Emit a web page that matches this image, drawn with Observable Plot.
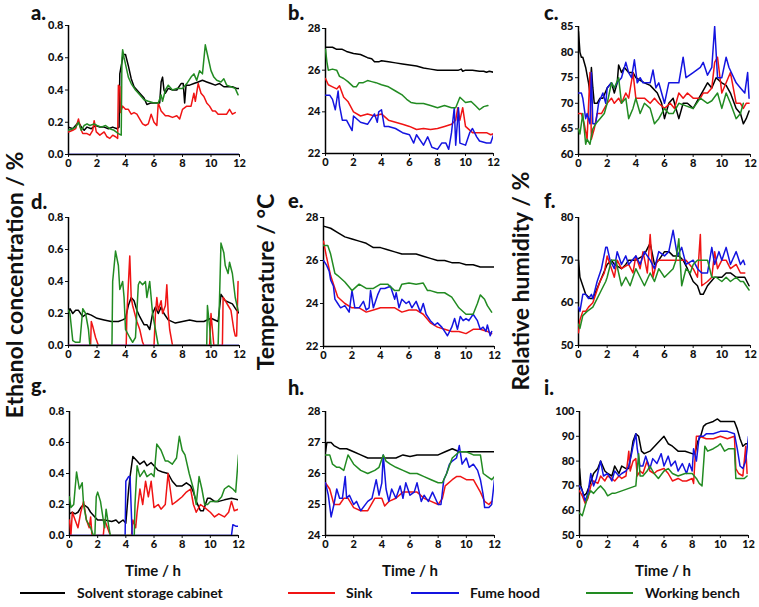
<!DOCTYPE html>
<html><head><meta charset="utf-8">
<script src="https://cdn.jsdelivr.net/npm/d3@7"></script>
<script src="https://cdn.jsdelivr.net/npm/@observablehq/plot@0.6"></script>
<style>
body{margin:0;background:#fff;}
#root{position:relative;width:759px;height:607px;overflow:hidden;font-family:Lato,"Open Sans",sans-serif;color:#111;}
.abs{position:absolute;}
.letter{font-weight:900;font-size:20px;line-height:normal;}
.ytitle{font-weight:bold;font-size:23px;white-space:nowrap;transform:translate(-50%,-50%) rotate(-90deg);line-height:1;}
.xtitle{font-weight:bold;font-size:15px;white-space:nowrap;transform:translate(-50%,-50%);line-height:1;}
.leg{font-weight:bold;font-size:14px;white-space:nowrap;line-height:1;transform:translateY(-50%);}
.legline{height:2px;}
</style></head><body><div id="root"></div><script>
// ---- series names / colours ----
const seriesNames = ["Solvent storage cabinet","Sink","Fume hood","Working bench"];
const seriesColors = ["#000000","#f01414","#1414e0","#228b22"];
const timeTicks = [0,2,4,6,8,10,12];

// ---- panel a: ethanol ----
const aBlack=[[0,0.17],[0.3,0.16],[0.5,0.18],[0.7,0.2],[0.9,0.17],[1.1,0.15],[1.3,0.17],[1.6,0.16],[1.9,0.18],[2.2,0.17],[2.5,0.17],[2.8,0.16],[3.1,0.17],[3.4,0.16],[3.55,0.17],[3.6,0.5],[3.7,0.55],[3.85,0.62],[4.0,0.62],[4.2,0.55],[4.4,0.47],[4.6,0.42],[5.0,0.38],[5.3,0.35],[5.5,0.31],[5.8,0.32],[6.1,0.32],[6.4,0.32],[6.5,0.45],[6.6,0.48],[6.7,0.4],[6.8,0.38],[7.0,0.41],[7.3,0.4],[7.6,0.4],[7.9,0.44],[8.05,0.44],[8.15,0.32],[8.25,0.43],[8.5,0.43],[8.8,0.44],[9.1,0.45],[9.4,0.46],[9.7,0.45],[10.0,0.44],[10.3,0.43],[10.6,0.44],[10.9,0.42],[11.2,0.42],[11.5,0.42],[11.8,0.41],[12,0.41]];
const aRed=[[0,0.14],[0.3,0.15],[0.5,0.16],[0.7,0.22],[0.85,0.16],[1.0,0.13],[1.3,0.13],[1.5,0.12],[1.7,0.15],[1.8,0.21],[1.95,0.14],[2.2,0.12],[2.5,0.14],[2.7,0.11],[2.9,0.1],[3.1,0.12],[3.3,0.11],[3.45,0.1],[3.5,0.43],[3.6,0.42],[3.65,0.26],[3.8,0.3],[4.0,0.28],[4.2,0.28],[4.4,0.25],[4.6,0.26],[4.8,0.25],[5.0,0.22],[5.2,0.19],[5.4,0.18],[5.6,0.19],[5.8,0.25],[6.0,0.2],[6.2,0.18],[6.3,0.32],[6.5,0.27],[6.8,0.24],[7.0,0.24],[7.3,0.23],[7.6,0.24],[7.8,0.22],[8.0,0.28],[8.3,0.3],[8.6,0.3],[8.8,0.38],[8.9,0.33],[9.1,0.44],[9.3,0.38],[9.5,0.36],[9.7,0.32],[9.9,0.3],[10.1,0.27],[10.3,0.27],[10.5,0.25],[10.8,0.25],[11.1,0.25],[11.3,0.28],[11.5,0.25],[11.7,0.26]];
const aBlue=[[0,0],[3,0],[6,0],[9,0],[12,0]];
const aGreen=[[0,0.15],[0.3,0.16],[0.5,0.17],[0.7,0.2],[0.9,0.15],[1.1,0.18],[1.3,0.19],[1.5,0.18],[1.8,0.19],[2.0,0.18],[2.3,0.17],[2.6,0.18],[2.9,0.16],[3.2,0.15],[3.5,0.13],[3.7,0.12],[3.75,0.6],[3.8,0.65],[3.9,0.6],[4.0,0.56],[4.2,0.48],[4.4,0.44],[4.7,0.4],[5.0,0.37],[5.3,0.34],[5.6,0.33],[6.0,0.32],[6.3,0.32],[6.5,0.37],[6.6,0.33],[6.8,0.4],[7.0,0.43],[7.3,0.4],[7.6,0.41],[8.0,0.41],[8.3,0.44],[8.6,0.48],[8.8,0.5],[9.0,0.46],[9.2,0.52],[9.4,0.5],[9.6,0.68],[9.8,0.6],[10.0,0.52],[10.2,0.48],[10.4,0.46],[10.7,0.45],[10.9,0.47],[11.1,0.43],[11.4,0.42],[11.7,0.41],[11.9,0.37]];

// ---- panel b: temperature ----
const bBlack=[[0,27.1],[0.5,27.1],[0.8,27.0],[1.2,27.0],[1.5,26.9],[2,26.8],[2.5,26.75],[3,26.6],[3.3,26.55],[3.5,26.4],[3.8,26.4],[4,26.45],[4.5,26.4],[5,26.35],[5.5,26.3],[6,26.25],[6.5,26.2],[7,26.1],[7.5,26.05],[8,26.0],[8.5,26.0],[9,26.0],[9.5,26.0],[9.7,26.05],[9.8,25.95],[10,26.0],[10.5,26.0],[11,25.95],[11.3,25.95],[11.5,25.9],[11.7,25.95],[12,25.9]];
const bRed=[[0,25.6],[0.2,25.3],[0.5,25.2],[0.8,25.1],[1.0,25.25],[1.3,24.7],[1.6,24.5],[2.0,24.0],[2.5,23.8],[3.0,23.9],[3.5,23.8],[4.0,23.9],[4.5,23.6],[5.0,23.5],[5.5,23.4],[6.0,23.3],[6.5,23.15],[7.0,23.2],[7.5,23.15],[8.0,23.2],[8.5,23.3],[9.0,23.4],[9.3,23.6],[9.45,24.2],[9.6,23.6],[9.8,24.2],[10.0,23.3],[10.5,23.0],[11.0,23.0],[11.5,23.0],[11.8,22.9],[12,22.95]];
const bBlue=[[0,24.8],[0.3,24.8],[0.5,24.6],[0.7,24.1],[0.9,25.0],[1.0,24.3],[1.2,23.6],[1.5,23.6],[1.9,23.1],[2.0,23.8],[2.5,23.5],[3.0,23.4],[3.5,23.9],[3.7,23.5],[3.8,24.0],[4.0,24.1],[4.2,23.3],[4.5,23.3],[5.0,23.2],[5.5,23.0],[6.0,22.9],[6.3,22.5],[6.5,22.9],[7.0,22.4],[7.3,22.8],[7.6,22.3],[8.0,22.2],[8.3,22.5],[8.6,22.5],[8.8,22.2],[9.0,23.0],[9.2,24.2],[9.3,22.4],[9.5,24.2],[9.6,22.5],[10.0,22.4],[10.3,23.0],[10.5,23.2],[10.8,22.8],[11.0,22.6],[11.5,22.5],[11.8,22.5],[12,22.9]];
const bGreen=[[0,27.0],[0.1,26.4],[0.2,26.0],[0.5,26.05],[0.8,26.0],[1.0,25.7],[1.3,25.6],[1.6,25.45],[2.0,25.2],[2.2,25.2],[2.4,25.4],[2.7,25.4],[3.0,25.5],[3.3,25.45],[3.6,25.4],[4.0,25.3],[4.5,25.2],[5.0,25.0],[5.5,24.8],[5.8,24.6],[6.1,24.45],[6.5,24.4],[7.0,24.4],[7.5,24.3],[8.0,24.2],[8.5,24.3],[9.0,24.2],[9.3,24.2],[9.6,24.7],[10.0,24.45],[10.4,24.5],[10.7,24.3],[11.0,24.1],[11.3,24.25],[11.6,24.3]];

// ---- panel c: relative humidity ----
const cBlack=[[0,84],[0.1,80],[0.2,79],[0.3,79],[0.5,77],[0.7,74],[0.8,72],[0.9,77],[1.0,73],[1.1,70],[1.3,70],[1.5,71],[1.7,71],[2.0,73],[2.3,74],[2.5,72],[2.7,74],[2.8,77.5],[3.0,76],[3.2,77],[3.5,76],[3.8,76],[4.0,75],[4.3,74.5],[4.6,74],[5.0,73.5],[5.5,72],[5.8,70],[6.0,67],[6.3,70],[6.6,71],[7.0,67],[7.3,70],[7.6,70],[8.0,69],[8.3,70.5],[8.6,72],[9.0,74],[9.3,73],[9.6,75],[10.0,74],[10.3,73.5],[10.6,72],[11.0,69],[11.3,68],[11.5,66],[11.7,67],[11.9,68.5]];
const cRed=[[0,68],[0.2,68],[0.4,66],[0.6,63],[0.8,76],[0.9,63],[1.1,65],[1.3,68],[1.6,68],[2.0,70],[2.3,71],[2.5,70],[2.8,71],[3.0,70],[3.3,72],[3.5,71],[3.8,76],[4.0,71],[4.3,71],[4.6,71],[5.0,70],[5.3,71],[5.6,70],[6.0,69],[6.4,70],[6.7,69],[7.0,72],[7.3,71],[7.6,72],[8.0,71],[8.5,71],[8.7,72],[9.0,72],[9.3,73],[9.5,78],[9.7,79],[10.0,72],[10.3,74],[10.6,76],[11.0,70],[11.3,70],[11.5,69],[11.7,70],[11.9,70]];
const cBlue=[[0,72],[0.2,72],[0.3,71],[0.5,67],[0.6,68],[0.8,66],[0.9,76],[1.0,66],[1.2,66],[1.4,70],[1.7,72],[1.9,70],[2.0,73],[2.3,74],[2.5,73],[2.7,74],[3.0,75],[3.3,78],[3.5,76],[3.7,75],[3.9,78.5],[4.1,74],[4.3,75],[4.5,74],[4.8,74],[5.0,74],[5.2,76.5],[5.4,73],[5.6,74],[6.0,70],[6.3,74],[6.6,74],[7.0,74],[7.3,79],[7.5,75],[8.0,76],[8.5,77],[8.7,78],[9.0,75.5],[9.3,77],[9.5,85],[9.7,75],[10.0,75],[10.3,79],[10.5,77],[11.0,74],[11.3,73],[11.6,72],[11.8,76],[11.9,71]];
const cGreen=[[0,65],[0.1,64],[0.3,68],[0.5,62],[0.6,63],[0.8,62],[1.0,65],[1.2,66],[1.5,67],[1.8,68],[2.0,70],[2.3,74],[2.5,73],[2.8,75],[3.0,70],[3.3,71],[3.5,67],[3.8,69],[4.0,71],[4.3,68],[4.6,70],[5.0,69],[5.3,66],[5.6,67],[6.0,69],[6.3,68],[6.6,68],[7.0,70],[7.5,69.5],[8.0,69],[8.5,71],[9.0,70],[9.3,70.5],[9.7,72],[10.0,69],[10.3,72],[10.6,70],[11.0,67],[11.3,68],[11.5,70]];

// ---- panel d: ethanol ----
const dBlack=[[0,0.2],[0.1,0.23],[0.3,0.2],[0.5,0.22],[0.7,0.22],[1.0,0.18],[1.3,0.2],[1.6,0.19],[2.0,0.17],[2.5,0.16],[3.0,0.15],[3.5,0.15],[3.8,0.16],[4.0,0.17],[4.2,0.25],[4.4,0.3],[4.6,0.28],[4.8,0.22],[5.0,0.18],[5.3,0.13],[5.5,0.13],[5.7,0.1],[5.9,0.2],[6.1,0.24],[6.3,0.2],[6.5,0.24],[6.7,0.2],[7.0,0.16],[7.5,0.14],[8.0,0.15],[8.5,0.16],[9.0,0.15],[9.5,0.15],[10.0,0.17],[10.5,0.15],[10.7,0.32],[11.0,0.28],[11.5,0.26],[11.8,0.22],[12,0.2]];
const dRed=[[0,0],[1.55,0],[1.6,0.15],[1.7,0.12],[1.9,0.05],[2.1,0],[4.05,0],[4.1,0.2],[4.3,0.56],[4.4,0.3],[4.5,0.25],[4.8,0.15],[5.0,0.1],[5.2,0.02],[5.3,0],[6.0,0],[6.1,0.2],[6.2,0.3],[6.3,0.22],[6.5,0.28],[6.6,0.2],[6.8,0.25],[6.9,0.38],[7.0,0.2],[7.1,0.1],[7.3,0],[9.9,0],[10.0,0.2],[10.1,0.1],[10.2,0],[10.8,0],[10.85,0.3],[11.0,0.28],[11.2,0.25],[11.4,0.22],[11.6,0.1],[11.7,0.06],[11.8,0.06],[11.9,0.4]];
const dBlue=[[0,0],[3,0],[6,0],[9,0],[12,0]];
const dGreen=[[0,0.22],[0.1,0.2],[0.3,0.03],[0.5,0.02],[0.8,0.02],[1.0,0.23],[1.2,0.2],[1.4,0.1],[1.5,0],[3.05,0],[3.1,0.4],[3.3,0.59],[3.5,0.5],[3.6,0.35],[3.8,0.4],[3.9,0.3],[4.0,0.1],[4.3,0.05],[4.5,0.02],[4.7,0.05],[4.9,0.38],[5.0,0.4],[5.2,0.38],[5.4,0.4],[5.5,0.3],[5.7,0.4],[5.85,0.25],[5.9,0.2],[6.1,0.1],[6.3,0],[9.7,0],[9.75,0.25],[9.9,0.12],[10.0,0],[10.5,0],[10.6,0.3],[10.7,0.64],[10.9,0.58],[11.0,0.5],[11.2,0.45],[11.3,0.52],[11.5,0.45],[11.7,0.3],[11.9,0.22]];

// ---- panel e: temperature ----
const eBlack=[[0,27.6],[0.5,27.5],[1,27.3],[1.5,27.1],[2,27.0],[2.5,26.9],[3,26.8],[3.5,26.6],[4,26.6],[4.5,26.5],[5,26.4],[5.5,26.3],[6,26.3],[6.5,26.3],[7,26.2],[7.5,26.1],[8,26.0],[8.5,26.0],[9,25.9],[9.5,25.9],[10,25.8],[10.5,25.8],[11,25.7],[11.5,25.7],[12,25.7]];
const eRed=[[0,26.9],[0.2,26.2],[0.5,25.3],[0.8,24.7],[1.0,24.3],[1.5,24.0],[2.0,23.8],[2.5,23.8],[3.0,23.6],[3.5,23.7],[4.0,23.8],[4.5,23.8],[5.0,23.8],[5.5,23.6],[6.0,23.7],[6.5,23.7],[7.0,23.5],[7.5,23.1],[8.0,22.9],[8.5,22.8],[9.0,22.7],[9.5,22.7],[10.0,22.6],[10.5,22.8],[11.0,22.8],[11.5,22.7],[11.8,22.6]];
const eBlue=[[0,26.0],[0.2,25.8],[0.4,25.5],[0.5,25.1],[0.7,24.8],[0.8,24.2],[1.0,24.0],[1.2,23.8],[1.5,23.9],[1.8,23.6],[2.0,24.6],[2.2,23.8],[2.5,23.8],[2.8,24.1],[3.0,23.7],[3.2,23.8],[3.3,24.6],[3.5,23.8],[3.8,24.4],[4.0,24.7],[4.3,24.7],[4.7,24.8],[5.0,24.2],[5.1,24.5],[5.3,23.8],[5.5,24.2],[5.8,24.0],[6.0,24.1],[6.2,23.8],[6.5,24.1],[6.8,23.6],[7.0,24.0],[7.2,23.5],[7.5,23.2],[7.8,23.0],[8.0,23.1],[8.3,22.9],[8.5,22.7],[8.7,22.5],[9.0,22.9],[9.2,23.3],[9.4,22.8],[9.6,23.4],[9.8,23.2],[10.0,23.3],[10.2,23.2],[10.5,23.5],[10.8,23.2],[11.0,22.8],[11.2,22.9],[11.4,22.7],[11.5,23.0],[11.7,22.5],[11.8,22.7]];
const eGreen=[[0,26.7],[0.3,26.7],[0.5,26.3],[0.8,25.4],[1.0,25.3],[1.5,25.0],[2.0,24.6],[2.5,24.9],[3.0,24.7],[3.5,24.7],[4.0,24.9],[4.5,24.9],[5.0,24.6],[5.3,24.6],[5.5,24.9],[6.0,24.95],[6.5,24.9],[7.0,24.95],[7.3,24.6],[7.5,24.6],[8.0,24.5],[8.5,24.5],[9.0,24.3],[9.5,23.8],[10.0,23.5],[10.5,23.5],[10.8,24.0],[11.0,24.4],[11.3,24.2],[11.5,23.9],[11.8,23.6]];

// ---- panel f: relative humidity ----
const fBlack=[[0,70],[0.1,66],[0.3,64],[0.5,62],[0.8,61],[1.0,61],[1.5,65],[2.0,69],[2.3,70],[2.5,69],[3.0,68],[3.3,69],[3.5,70],[4.0,70],[4.5,71],[4.7,72],[5.0,74],[5.3,69],[5.6,70],[6.0,72],[6.3,72],[6.6,71],[7.0,71],[7.3,70],[7.6,68],[8.0,65],[8.3,64],[8.5,62],[8.7,62],[9.0,64],[9.5,66],[10.0,66],[10.3,67],[10.6,67],[11.0,66],[11.3,66],[11.6,66],[11.9,64]];
const fRed=[[0,53],[0.1,56],[0.3,58],[0.5,58],[0.7,59],[1.0,60],[1.3,63],[1.5,65],[1.8,67],[2.0,71],[2.3,68],[2.5,66],[2.7,70],[3.0,68],[3.5,69],[3.8,67],[4.0,71],[4.3,68],[4.5,72],[4.8,67],[5.0,76],[5.2,66],[5.5,70],[6.0,70],[6.5,70],[7.0,70],[7.5,70],[8.0,68],[8.3,66],[8.5,76],[8.6,64],[9.0,65],[9.3,66],[9.5,72],[9.7,68],[10.0,70],[10.3,70],[10.6,68],[11.0,69],[11.3,67],[11.6,67]];
const fBlue=[[0,59],[0.1,58],[0.3,62],[0.5,62],[0.7,61],[0.9,62],[1.0,61],[1.3,65],[1.6,68],[1.9,73],[2.0,73],[2.2,70],[2.5,68],[2.7,72],[3.0,69],[3.3,71],[3.5,69],[4.0,71],[4.3,69],[4.6,72],[5.0,70],[5.3,68],[5.6,72],[6.0,71],[6.3,72],[6.6,77],[6.9,71],[7.2,73],[7.5,69],[8.0,70],[8.3,68],[8.6,67],[9.0,67],[9.3,73],[9.5,69],[9.8,72],[10.0,70],[10.3,73],[10.6,69],[11.0,72],[11.3,69],[11.5,70],[11.6,69]];
const fGreen=[[0,55],[0.1,54],[0.3,57],[0.6,58],[1.0,59],[1.3,61],[1.6,63],[1.9,65],[2.0,66],[2.3,70],[2.6,70],[2.8,67],[3.0,64],[3.3,66],[3.6,64],[4.0,68],[4.3,66],[4.6,64],[5.0,67],[5.3,65],[5.6,68],[6.0,66],[6.3,67],[6.6,68],[6.8,70],[7.0,75],[7.2,64],[7.5,68],[7.8,67],[8.0,69],[8.3,70],[8.6,70],[9.0,70],[9.3,66],[9.6,66],[10.0,65],[10.3,66],[10.6,65],[11.0,66],[11.3,65],[11.5,65],[11.7,64],[11.9,63]];

// ---- panel g: ethanol ----
const gBlack=[[0,0.14],[0.2,0.15],[0.4,0.14],[0.6,0.15],[0.8,0.18],[1.0,0.2],[1.3,0.18],[1.5,0.15],[1.8,0.12],[2.0,0.1],[2.5,0.1],[3.0,0.09],[3.3,0.1],[3.5,0.08],[3.8,0.1],[4.0,0.08],[4.2,0.3],[4.3,0.38],[4.5,0.51],[4.8,0.48],[5.0,0.46],[5.3,0.48],[5.5,0.45],[5.8,0.47],[6.0,0.45],[6.3,0.42],[6.6,0.41],[7.0,0.4],[7.3,0.35],[7.6,0.32],[8.0,0.32],[8.3,0.34],[8.6,0.32],[8.8,0.28],[9.0,0.22],[9.3,0.16],[9.5,0.16],[9.8,0.24],[10.0,0.24],[10.3,0.22],[10.6,0.22],[11.0,0.23],[11.5,0.24],[12,0.23]];
const gRed=[[0,0.1],[0.1,0],[0.2,0.15],[0.4,0.1],[0.6,0.05],[0.8,0.15],[1.0,0.22],[1.2,0.1],[1.4,0.05],[1.5,0.12],[1.6,0],[2.4,0],[2.5,0.1],[2.7,0.05],[2.9,0],[4.4,0],[4.5,0.1],[4.7,0.05],[4.8,0.15],[5.0,0.3],[5.2,0.2],[5.4,0.35],[5.6,0.25],[5.8,0.35],[6.0,0.18],[6.3,0.2],[6.5,0.17],[6.8,0.2],[7.0,0.4],[7.3,0.2],[7.6,0.22],[8.0,0.25],[8.3,0.28],[8.6,0.3],[8.8,0.2],[9.0,0.15],[9.3,0.2],[9.6,0.18],[10.0,0.15],[10.3,0.12],[10.6,0.14],[11.0,0.12],[11.3,0.15],[11.5,0.22],[11.7,0.16],[12,0.17]];
const gBlue=[[0,0],[3.95,0],[4.0,0.35],[4.2,0.38],[4.3,0.38],[4.45,0],[11.5,0],[11.6,0.07],[11.8,0.06],[12,0.06]];
const gGreen=[[0,0.25],[0.1,0.18],[0.3,0.2],[0.5,0.41],[0.7,0.3],[0.9,0.34],[1.0,0.2],[1.2,0.1],[1.5,0.05],[1.7,0],[1.8,0],[1.9,0.25],[2.0,0.28],[2.2,0.22],[2.4,0.1],[2.5,0.05],[2.6,0.17],[2.8,0.05],[2.9,0],[4.6,0],[4.65,0.2],[4.8,0.45],[5.0,0.38],[5.3,0.42],[5.5,0.38],[5.8,0.4],[6.0,0.38],[6.2,0.59],[6.5,0.55],[6.8,0.48],[7.0,0.48],[7.3,0.46],[7.6,0.5],[7.8,0.64],[8.0,0.55],[8.2,0.52],[8.5,0.4],[8.8,0.3],[9.0,0.2],[9.2,0.38],[9.4,0.3],[9.6,0.2],[9.8,0.2],[10.0,0.22],[10.5,0.22],[10.8,0.25],[11.0,0.3],[11.3,0.32],[11.6,0.3],[11.8,0.28],[12,0.52]];

// ---- panel h: temperature ----
const hBlack=[[0,26.7],[0.1,27.0],[0.4,27.0],[0.6,26.9],[1.0,26.8],[1.5,26.8],[2.0,26.7],[2.5,26.6],[3.0,26.5],[3.5,26.5],[4.0,26.5],[4.5,26.5],[5.0,26.5],[5.5,26.6],[6.0,26.55],[6.5,26.6],[7.0,26.6],[7.5,26.6],[8.0,26.6],[8.5,26.7],[9.0,26.8],[9.5,26.7],[10.0,26.7],[10.5,26.7],[11.0,26.7],[11.5,26.7],[12,26.7]];
const hRed=[[0,25.7],[0.3,25.5],[0.6,25.0],[1.0,25.0],[1.3,25.2],[1.6,25.2],[2.0,24.9],[2.5,24.8],[3.0,24.8],[3.5,25.2],[4.0,25.2],[4.2,24.95],[4.5,25.1],[5.0,25.2],[5.5,25.4],[6.0,25.4],[6.5,25.4],[7.0,25.2],[7.5,25.1],[8.0,25.0],[8.3,25.2],[8.5,25.6],[9.0,25.8],[9.3,25.9],[9.6,25.9],[10.0,25.8],[10.5,25.8],[11.0,25.4],[11.3,25.1],[11.6,25.0],[11.8,25.1]];
const hBlue=[[0,25.7],[0.2,25.3],[0.4,24.6],[0.6,25.0],[0.8,25.5],[1.0,25.2],[1.2,25.2],[1.4,25.9],[1.5,25.2],[1.7,25.3],[2.0,25.0],[2.2,25.1],[2.5,24.8],[3.0,25.1],[3.3,25.2],[3.6,25.8],[3.8,25.3],[4.0,25.7],[4.1,26.6],[4.3,25.5],[4.5,25.1],[4.7,25.5],[5.0,25.2],[5.3,25.6],[5.5,25.2],[5.7,25.7],[6.0,25.3],[6.3,25.4],[6.5,25.7],[6.8,25.1],[7.0,25.3],[7.3,25.1],[7.6,25.4],[8.0,25.0],[8.2,25.0],[8.4,25.8],[8.6,26.0],[8.8,26.3],[9.0,26.4],[9.3,26.5],[9.5,26.9],[9.7,26.3],[10.0,26.5],[10.2,26.2],[10.5,26.3],[10.8,26.1],[11.0,25.8],[11.2,25.3],[11.3,24.9],[11.6,24.9],[11.8,25.0],[12,25.8]];
const hGreen=[[0,26.6],[0.3,26.6],[0.5,26.3],[0.8,26.2],[1.0,26.2],[1.3,26.1],[1.6,26.6],[2.0,26.3],[2.5,26.1],[3.0,26.0],[3.5,26.1],[3.8,26.2],[4.1,26.6],[4.3,26.4],[4.6,26.3],[5.0,26.2],[5.5,26.1],[6.0,26.0],[6.5,26.0],[7.0,25.9],[7.5,25.8],[8.0,25.7],[8.3,25.7],[8.6,26.0],[9.0,26.5],[9.5,26.7],[10.0,26.7],[10.5,26.6],[11.0,26.6],[11.2,26.0],[11.5,25.9],[11.8,25.8],[12,25.9]];

// ---- panel i: relative humidity ----
const iBlack=[[0,77],[0.1,70],[0.3,66],[0.5,67],[0.7,70],[1.0,75],[1.3,77],[1.5,80],[1.8,76],[2.0,75],[2.3,74],[2.5,78],[2.8,75],[3.0,78],[3.3,77],[3.5,77],[3.8,88],[4.0,91],[4.2,90],[4.4,84],[4.6,83],[5.0,84],[5.5,87],[6.0,90],[6.3,87],[6.6,86],[7.0,84],[7.5,84],[8.0,83],[8.2,83],[8.4,88],[8.6,90],[8.8,94],[9.0,95],[9.5,96],[9.8,97],[10.0,96],[10.5,96],[11.0,96],[11.2,93],[11.4,89],[11.6,86],[11.8,87],[12,87]];
const iRed=[[0,68],[0.2,66],[0.4,63],[0.6,65],[0.8,70],[1.0,72],[1.3,71],[1.5,74],[1.8,72],[2.0,74],[2.3,73],[2.5,72],[2.8,74],[3.0,73],[3.3,74],[3.5,84],[3.6,76],[3.8,80],[4.0,81],[4.1,74],[4.3,76],[4.5,75],[4.8,80],[5.0,76],[5.3,75],[5.5,76],[6.0,77],[6.3,75],[6.6,72],[7.0,73],[7.3,72],[7.6,72],[8.0,73],[8.1,71],[8.3,90],[8.5,90],[9.0,89],[9.5,89],[10.0,90],[10.5,89],[11.0,90],[11.1,77],[11.3,75],[11.6,74],[11.8,86],[11.9,75]];
const iBlue=[[0,70],[0.2,68],[0.4,64],[0.6,67],[0.8,75],[1.0,70],[1.2,73],[1.5,80],[1.7,74],[2.0,75],[2.3,72],[2.5,76],[2.8,74],[3.0,75],[3.3,76],[3.5,78],[3.7,83],[3.8,86],[4.0,91],[4.1,85],[4.3,78],[4.5,78],[4.7,82],[5.0,77],[5.2,81],[5.5,79],[5.8,83],[6.0,78],[6.3,82],[6.5,78],[6.8,80],[7.0,76],[7.3,79],[7.6,75],[7.8,79],[8.0,76],[8.1,85],[8.3,80],[8.5,90],[8.8,90],[9.0,91],[9.5,91],[10.0,92],[10.5,92],[11.0,91],[11.2,85],[11.4,78],[11.6,77],[11.8,80],[12,90]];
const iGreen=[[0,59],[0.2,58],[0.4,62],[0.6,66],[0.8,68],[1.0,67],[1.3,69],[1.5,70],[1.8,68],[2.0,66],[2.3,67],[2.5,67],[3.0,68],[3.5,69],[4.0,70],[4.2,83],[4.3,74],[4.5,74],[4.8,76],[5.0,78],[5.3,75],[5.6,73],[6.0,76],[6.3,77],[6.6,75],[7.0,74],[7.5,75],[8.0,75],[8.3,73],[8.5,71],[8.7,70],[8.9,86],[9.1,84],[9.5,85],[9.8,86],[10.0,87],[10.3,84],[10.6,85],[11.0,85],[11.1,73],[11.4,73],[11.7,73],[11.9,74]];

// ---- y-axis settings per quantity ----
const ethanolDomain=[0,0.8], ethanolTicks=[0,0.2,0.4,0.6,0.8];
const tempDomain1=[22,28], tempTicks1=[22,24,26,28];
const tempDomain2=[24,28], tempTicks2=[24,25,26,27,28];
const rhDomainC=[60,85], rhTicksC=[60,65,70,75,80,85];
const rhDomainF=[50,80], rhTicksF=[50,60,70,80];
const rhDomainI=[50,100], rhTicksI=[50,60,70,80,90,100];

const root=document.getElementById("root");
function el(cls,text,style){const d=document.createElement("div");d.className="abs "+cls;if(text!=null)d.textContent=text;Object.assign(d.style,style);root.appendChild(d);return d;}

// panel frames (pixel positions of the plot area)
const panels=[
 {L:"a.",box:[68,239,25,154],dom:ethanolDomain,ticks:ethanolTicks,fmt:d3.format(".1f"),s:[aBlack,aRed,aBlue,aGreen],lx:31,ly:0},
 {L:"b.",box:[325,493,28,153],dom:tempDomain1,ticks:tempTicks1,fmt:d3.format("d"),s:[bBlack,bRed,bBlue,bGreen],lx:288,ly:0},
 {L:"c.",box:[578,750,26,154],dom:rhDomainC,ticks:rhTicksC,fmt:d3.format("d"),s:[cBlack,cRed,cBlue,cGreen],lx:544,ly:0},
 {L:"d.",box:[68,239,217,345],dom:ethanolDomain,ticks:ethanolTicks,fmt:d3.format(".1f"),s:[dBlack,dRed,dBlue,dGreen],lx:31,ly:189},
 {L:"e.",box:[323,494,217,346],dom:tempDomain1,ticks:tempTicks1,fmt:d3.format("d"),s:[eBlack,eRed,eBlue,eGreen],lx:288,ly:188},
 {L:"f.",box:[578,750,217,345],dom:rhDomainF,ticks:rhTicksF,fmt:d3.format("d"),s:[fBlack,fRed,fBlue,fGreen],lx:544,ly:188},
 {L:"g.",box:[69,238,411,535],dom:ethanolDomain,ticks:ethanolTicks,fmt:d3.format(".1f"),s:[gBlack,gRed,gBlue,gGreen],lx:31,ly:373},
 {L:"h.",box:[325,494,411,535],dom:tempDomain2,ticks:tempTicks2,fmt:d3.format("d"),s:[hBlack,hRed,hBlue,hGreen],lx:288,ly:375},
 {L:"i.",box:[579,748,411,535],dom:rhDomainI,ticks:rhTicksI,fmt:d3.format("d"),s:[iBlack,iRed,iBlue,iGreen],lx:544,ly:375}
];
const mL=40,mR=12,mT=8,mB=22;
for(const p of panels){
  const [x0,x1,yT,yB]=p.box;
  const marks=[];
  p.s.forEach((data,k)=>marks.push(Plot.line(data,{x:d=>d[0],y:d=>d[1],stroke:seriesColors[k],strokeWidth:1.5,clip:true})));
  const chart=Plot.plot({
    width:x1-x0+mL+mR,height:yB-yT+mT+mB,
    marginLeft:mL,marginRight:mR,marginTop:mT,marginBottom:mB,
    style:{fontFamily:"Lato, 'Open Sans', sans-serif",fontSize:"11px",fontWeight:"900",color:"#111",background:"transparent",overflow:"visible"},
    x:{domain:[0,12],ticks:timeTicks,tickFormat:d3.format("d"),tickSize:3,tickPadding:2,label:null},
    y:{domain:p.dom,ticks:p.ticks,tickFormat:p.fmt,tickSize:3,tickPadding:2,label:null},
    marks:[
      Plot.ruleX([0],{stroke:"#000",strokeWidth:1.5}),
      Plot.ruleY([p.dom[0]],{stroke:"#000",strokeWidth:1.5}),
      ...marks
    ]
  });
  chart.style.position="absolute";
  chart.style.left=(x0-mL)+"px";
  chart.style.top=(yT-mT)+"px";
  root.appendChild(chart);
  el("letter",p.L,{left:p.lx+"px",top:p.ly+"px"});
}
// axis titles
el("ytitle","Ethanol concentration / %",{left:"14px",top:"285px"});
el("ytitle","Temperature / °C",{left:"265px",top:"282px"});
el("ytitle","Relative humidity / %",{left:"520px",top:"281px"});
for(const cx of [153,410,663]) el("xtitle","Time / h",{left:cx+"px",top:"570px"});
// legend
const legX=[[20,65,77],[288,335,346],[411,459,470],[586,633,645]];
seriesNames.forEach((n,k)=>{
  const [a,b,t]=legX[k];
  el("legline",null,{left:a+"px",top:"592px",width:(b-a)+"px",background:seriesColors[k]});
  el("leg",n,{left:t+"px",top:"593px"});
});
</script></body></html>
